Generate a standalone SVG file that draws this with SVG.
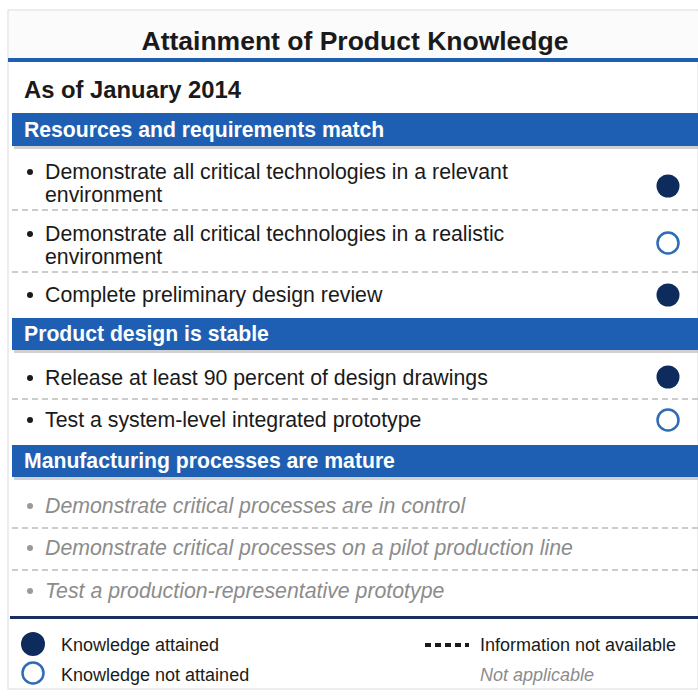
<svg xmlns="http://www.w3.org/2000/svg" width="698" height="698" viewBox="0 0 698 698">
<style>
text{font-family:"Liberation Sans",Arial,sans-serif;}
.title{font-size:26.5px;font-weight:bold;fill:#1a1a1a;}
.sub{font-size:23.8px;font-weight:bold;fill:#1a1a1a;}
.bar{fill:#1e5fb3;}
.shadow{fill:#9a9a9a;opacity:0.45;}
.bartxt{font-size:21.2px;font-weight:bold;fill:#ffffff;}
.item{font-size:21.3px;fill:#1a1a1a;}
.na{font-size:21.3px;font-style:italic;fill:#8c8c8c;}
.bul{fill:#1a1a1a;}
.bulna{fill:#9a9a9a;}
.dash{stroke:#9a9a9a;stroke-width:1.2;stroke-dasharray:6 4;fill:none;}
.full{fill:#0e2b5e;}
.open{fill:#ffffff;stroke:#2f6cb5;stroke-width:2.5;}
.leg{font-size:18px;fill:#1a1a1a;}
.legna{font-size:18px;font-style:italic;fill:#8c8c8c;}
</style>
<rect x="0" y="0" width="698" height="698" fill="#ffffff"/>
<rect x="8" y="10" width="690" height="679" fill="#ffffff" stroke="#dcdcdc" stroke-width="1"/>
<rect x="9" y="11" width="689" height="47" fill="#fbfbfb"/>
<text class="title" x="355" y="50" text-anchor="middle">Attainment of Product Knowledge</text>
<rect x="8" y="58" width="690" height="4" fill="#1e5fb3"/>
<text class="sub" x="24" y="98">As of January 2014</text>

<g id="section1">
<rect class="shadow" x="14" y="116" width="684" height="33"/>
<rect class="bar" x="12" y="113" width="686" height="33"/>
<text class="bartxt" x="24" y="137">Resources and requirements match</text>
</g>
<g id="item1">
<circle class="bul" cx="30" cy="172" r="3"/>
<text class="item" x="45" y="179">Demonstrate all critical technologies in a relevant</text>
<text class="item" x="45" y="202">environment</text>
<circle class="full" cx="668" cy="186" r="11.5"/>
</g>
<g id="item2">
<circle class="bul" cx="30" cy="234" r="3"/>
<text class="item" x="45" y="241">Demonstrate all critical technologies in a realistic</text>
<text class="item" x="45" y="264">environment</text>
<circle class="open" cx="668" cy="243" r="10.5"/>
</g>
<g id="item3">
<circle class="bul" cx="30" cy="295" r="3"/>
<text class="item" x="45" y="302">Complete preliminary design review</text>
<circle class="full" cx="668" cy="295" r="11.5"/>
</g>

<g id="section2">
<rect class="shadow" x="14" y="321" width="684" height="32"/>
<rect class="bar" x="12" y="318" width="686" height="32"/>
<text class="bartxt" x="24" y="341">Product design is stable</text>
</g>
<g id="item4">
<circle class="bul" cx="30" cy="378" r="3"/>
<text class="item" x="45" y="385">Release at least 90 percent of design drawings</text>
<circle class="full" cx="668" cy="377" r="11.5"/>
</g>
<g id="item5">
<circle class="bul" cx="30" cy="420" r="3"/>
<text class="item" x="45" y="427">Test a system-level integrated prototype</text>
<circle class="open" cx="668" cy="420" r="10.5"/>
</g>

<g id="section3">
<rect class="shadow" x="14" y="448" width="684" height="32"/>
<rect class="bar" x="12" y="445" width="686" height="32"/>
<text class="bartxt" x="24" y="468">Manufacturing processes are mature</text>
</g>
<g id="item6">
<circle class="bulna" cx="30" cy="506" r="3"/>
<text class="na" x="45" y="513">Demonstrate critical processes are in control</text>
</g>
<g id="item7">
<circle class="bulna" cx="30" cy="548" r="3"/>
<text class="na" x="45" y="555">Demonstrate critical processes on a pilot production line</text>
</g>
<g id="item8">
<circle class="bulna" cx="30" cy="591" r="3"/>
<text class="na" x="45" y="598">Test a production-representative prototype</text>
</g>

<g id="connectors">
<line class="dash" x1="12" y1="210" x2="698" y2="210"/>
<line class="dash" x1="12" y1="272" x2="698" y2="272"/>
<line class="dash" x1="12" y1="399" x2="698" y2="399"/>
<line class="dash" x1="12" y1="528" x2="698" y2="528"/>
<line class="dash" x1="12" y1="570" x2="698" y2="570"/>
</g>

<rect x="10" y="616" width="688" height="3" fill="#1b2f5e"/>
<g id="legend">
<circle class="full" cx="33" cy="644" r="12"/>
<text class="leg" x="61" y="651">Knowledge attained</text>
<circle class="open" cx="33" cy="673" r="10.5"/>
<text class="leg" x="61" y="681">Knowledge not attained</text>
<line x1="425" y1="645" x2="469" y2="645" stroke="#1a1a1a" stroke-width="4" stroke-dasharray="6 4"/>
<text class="leg" x="480" y="651">Information not available</text>
<text class="legna" x="480" y="681">Not applicable</text>
</g>
</svg>
